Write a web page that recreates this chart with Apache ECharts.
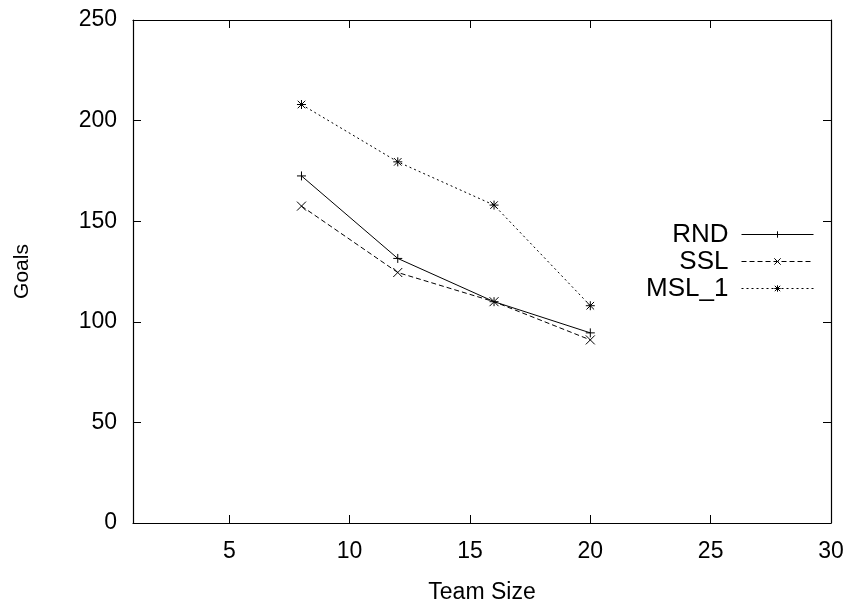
<!DOCTYPE html>
<html>
<head>
<meta charset="utf-8">
<script src="https://cdn.jsdelivr.net/npm/echarts@6/dist/echarts.min.js"></script>
<style>
  html, body { margin: 0; padding: 0; background: #fff; }
  #chart { width: 854px; height: 604px; }
</style>
</head>
<body>
<div id="chart"></div>
<script>
// Goals scored against team size for three strategies
const teamSize = [8, 12, 16, 20];
const rnd = [172.5, 131.5, 110, 94.5];
const ssl = [157.5, 124.5, 110, 91];
const msl1 = [208, 179.5, 158, 108];

const xTickLabels = [5, 10, 15, 20, 25, 30];
const xTicks = [5, 10, 15, 20, 25];

const FONT = 'Liberation Sans, Arial, Helvetica, sans-serif';

const SYM_PLUS = 'path://M0,5L10,5M5,0L5,10';
const SYM_CROSS = 'path://M0,0L10,10M10,0L0,10';
const SYM_STAR = 'path://M0,5L10,5M5,0L5,10M0.8,0.8L9.2,9.2M9.2,0.8L0.8,9.2';

function pairs(ys) { return teamSize.map((x, i) => [x, ys[i]]); }

function lineSeries(name, ys, symbol, dash) {
  return {
    name: name,
    type: 'line',
    data: pairs(ys),
    symbol: symbol,
    symbolSize: 9,
    showSymbol: true,
    animation: false,
    lineStyle: { color: '#000', width: 1, type: dash },
    itemStyle: { color: '#000', borderColor: '#000', borderWidth: 1 },
    emphasis: { disabled: true }
  };
}

const tickStyle = { inside: true, length: 8, lineStyle: { color: '#000', width: 1 } };
const axisLineStyle = { show: true, onZero: false, lineStyle: { color: '#000', width: 1.2 } };

const chart = echarts.init(document.getElementById('chart'), null, { renderer: 'canvas' });
chart.setOption({
  backgroundColor: '#fff',
  animation: false,
  textStyle: { fontFamily: FONT },
  grid: { left: 133, top: 20, right: 23, bottom: 81, containLabel: false, outerBoundsMode: 'none' },
  legend: {
    orient: 'vertical',
    right: 40,
    top: 221,
    padding: 0,
    align: 'right',
    itemWidth: 72,
    itemHeight: 8,
    itemGap: 0,
    selectedMode: false,
    lineStyle: { width: 1 },
    itemStyle: { borderWidth: 1 },
    textStyle: { fontFamily: FONT, fontSize: 26, lineHeight: 27, color: '#000', padding: [0, 8, 0, 0] },
    data: ['RND', 'SSL', 'MSL_1']
  },
  xAxis: [
    {
      type: 'value', min: 1, max: 30, position: 'bottom',
      name: 'Team Size', nameLocation: 'middle', nameGap: 58,
      nameTextStyle: { fontFamily: FONT, fontSize: 23, color: '#000' },
      axisLine: axisLineStyle,
      axisTick: Object.assign({ customValues: xTicks }, tickStyle),
      axisLabel: { customValues: xTickLabels, fontFamily: FONT, fontSize: 23, color: '#000', margin: 17 },
      splitLine: { show: false }
    },
    {
      type: 'value', min: 1, max: 30, position: 'top',
      axisLine: axisLineStyle,
      axisTick: Object.assign({ customValues: xTicks }, tickStyle),
      axisLabel: { show: false },
      splitLine: { show: false }
    }
  ],
  yAxis: [
    {
      type: 'value', min: 0, max: 250, interval: 50, position: 'left',
      name: 'Goals', nameLocation: 'middle', nameGap: 100, nameRotate: 90,
      nameTextStyle: { fontFamily: FONT, fontSize: 21, color: '#000' },
      axisLine: axisLineStyle,
      axisTick: tickStyle,
      axisLabel: { fontFamily: FONT, fontSize: 23, color: '#000', margin: 16, padding: [4, 0, 0, 0] },
      splitLine: { show: false }
    },
    {
      type: 'value', min: 0, max: 250, interval: 50, position: 'right',
      axisLine: axisLineStyle,
      axisTick: tickStyle,
      axisLabel: { show: false },
      splitLine: { show: false }
    }
  ],
  series: [
    lineSeries('RND', rnd, SYM_PLUS, 'solid'),
    lineSeries('SSL', ssl, SYM_CROSS, [5, 3]),
    lineSeries('MSL_1', msl1, SYM_STAR, [2, 3])
  ]
});
</script>
</body>
</html>
